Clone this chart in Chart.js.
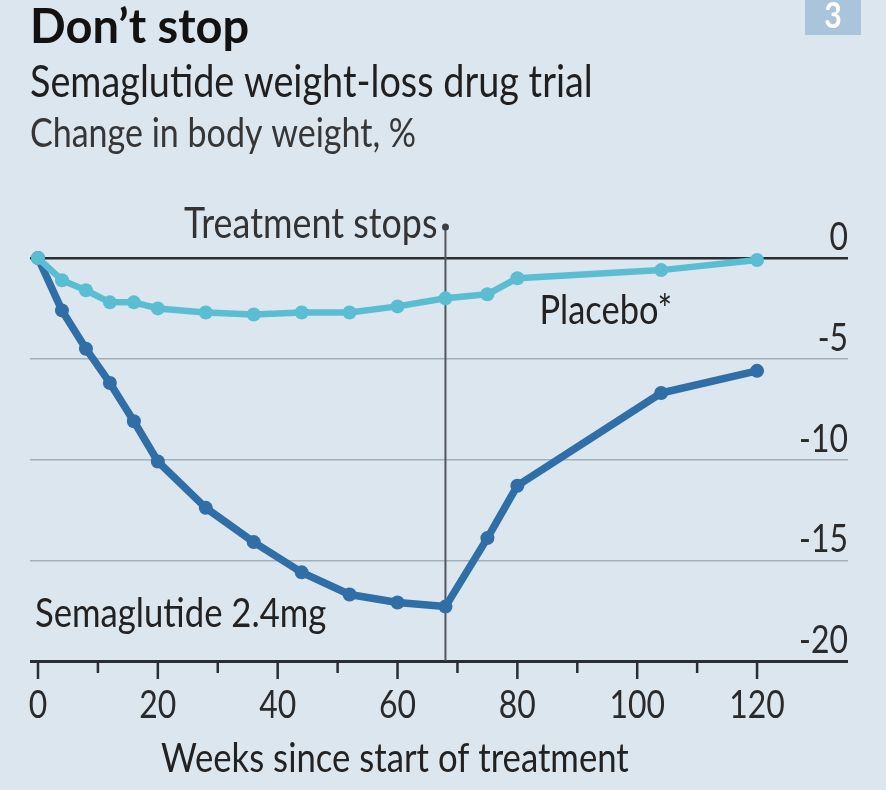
<!DOCTYPE html>
<html>
<head>
<meta charset="utf-8">
<title>Don't stop</title>
<script src="https://cdn.jsdelivr.net/npm/chart.js@4.4.1/dist/chart.umd.min.js"></script>
<style>
    html, body { margin: 0; padding: 0; background: #dce6ee; }
    canvas { display: block; }
</style>
</head>
<body>
<canvas id="chart" width="886" height="790"></canvas>
<script>
// Data (weeks since start, % change in body weight)
const semaWeeks = [0, 4, 8, 12, 16, 20, 28, 36, 44, 52, 60, 68, 75, 80, 104, 120];
const semaValues = [0, -2.6, -4.5, -6.2, -8.1, -10.1, -12.4, -14.1, -15.6, -16.7, -17.1, -17.3, -13.9, -11.3, -6.7, -5.6];
const placeboWeeks = [0, 4, 8, 12, 16, 20, 28, 36, 44, 52, 60, 68, 75, 80, 104, 120];
const placeboValues = [0, -1.1, -1.6, -2.2, -2.2, -2.5, -2.7, -2.8, -2.7, -2.7, -2.4, -2.0, -1.8, -1.0, -0.6, -0.1];
const xTickValues = [0, 10, 20, 30, 40, 50, 60, 70, 80, 90, 100, 110, 120];
const xTickLabels = ['0', '', '20', '', '40', '', '60', '', '80', '', '100', '', '120'];
const yTickValues = [0, -5, -10, -15, -20];
const yTickLabels = ['0', '-5', '-10', '-15', '-20'];
const stopWeek = 68;

const SEMA_COLOR = '#2f6ea6';
const PLACEBO_COLOR = '#5bbdd2';
const DARK = '#2a2e33';
const CND = 0.84; // horizontal squeeze to mimic a condensed face

function toPoints(xs, ys) {
    return xs.map((x, i) => ({ x: x, y: ys[i] }));
}

// fillText with a horizontal squeeze
function narrowText(ctx, text, x, y, size, align, color, weight) {
    ctx.save();
    ctx.font = (weight || 'normal') + ' ' + size + 'px Lato';
    ctx.fillStyle = color;
    ctx.textAlign = align;
    ctx.textBaseline = 'alphabetic';
    ctx.translate(x, y);
    ctx.scale(CND, 1);
    ctx.fillText(text, 0, 0);
    ctx.restore();
}

// Draws text, titles, x-axis ticks and the "treatment stops" marker
const decorations = {
    id: 'decorations',
    beforeDatasetsDraw(chart) {
        const { ctx, scales: { x, y } } = chart;
        const px = x.getPixelForValue(stopWeek);
        const top = chart.chartArea.top;
        ctx.save();
        ctx.strokeStyle = '#50565c';
        ctx.lineWidth = 2;
        ctx.beginPath();
        ctx.moveTo(px, top);
        ctx.lineTo(px, y.getPixelForValue(-20));
        ctx.stroke();
        ctx.fillStyle = '#3a3f44';
        ctx.beginPath();
        ctx.arc(px, top, 3.5, 0, Math.PI * 2);
        ctx.fill();
        ctx.restore();
    },
    afterDraw(chart) {
        const { ctx, scales: { x, y } } = chart;
        ctx.save();

        // Titles
        ctx.textAlign = 'left';
        ctx.textBaseline = 'alphabetic';
        ctx.fillStyle = '#121212';
        ctx.font = 'bold 47px Lato';
        ctx.fillText('Don\u2019t stop', 30, 43);
        narrowText(ctx, 'Semaglutide weight-loss drug trial', 30, 97, 45, 'left', '#1f1f1f');
        narrowText(ctx, 'Change in body weight, %', 30, 147, 40.5, 'left', '#363636');

        // Number box
        ctx.fillStyle = '#a9c4db';
        ctx.fillRect(805, 0, 56, 35);
        narrowText(ctx, '3', 833, 28, 36, 'center', '#ffffff', 'bold');

        // Y tick labels (right side, above gridlines)
        yTickValues.forEach((v, i) => {
            narrowText(ctx, yTickLabels[i], chart.chartArea.right, y.getPixelForValue(v) - 8, 38, 'right', '#2a2a2a');
        });

        // X ticks and labels
        const base = y.getPixelForValue(-20);
        ctx.strokeStyle = DARK;
        ctx.lineWidth = 2.5;
        xTickValues.forEach((v, i) => {
            const px = x.getPixelForValue(v);
            const major = xTickLabels[i] !== '';
            ctx.beginPath();
            ctx.moveTo(px, base);
            ctx.lineTo(px, base + (major ? 18 : 12));
            ctx.stroke();
            if (major) narrowText(ctx, xTickLabels[i], px, base + 57, 38, 'center', '#2a2a2a');
        });
        narrowText(ctx, 'Weeks since start of treatment', 161, 772, 41.3, 'left', '#222');

        // Series labels
        narrowText(ctx, 'Treatment stops', x.getPixelForValue(stopWeek) - 8, 238, 42.7, 'right', '#333');
        narrowText(ctx, 'Placebo*', x.getPixelForValue(83.7), 324, 41, 'left', '#222');
        narrowText(ctx, 'Semaglutide 2.4mg', x.getPixelForValue(-0.5), 627, 41.3, 'left', '#222');

        ctx.restore();
    }
};

const chart = new Chart(document.getElementById('chart'), {
    type: 'line',
    data: {
        datasets: [
            {
                label: 'Placebo*',
                data: toPoints(placeboWeeks, placeboValues),
                borderColor: PLACEBO_COLOR,
                backgroundColor: PLACEBO_COLOR,
                borderWidth: 6.5,
                pointRadius: 7,
                pointBorderWidth: 0,
                order: 0
            },
            {
                label: 'Semaglutide 2.4mg',
                data: toPoints(semaWeeks, semaValues),
                borderColor: SEMA_COLOR,
                backgroundColor: SEMA_COLOR,
                borderWidth: 7.5,
                pointRadius: 7,
                pointBorderWidth: 0,
                order: 1
            }
        ]
    },
    options: {
        responsive: false,
        animation: false,
        layout: { padding: { left: 30, right: 38, top: 227, bottom: 129 } },
        plugins: { legend: { display: false }, tooltip: { enabled: false } },
        elements: { line: { tension: 0, borderJoinStyle: 'round', borderCapStyle: 'round' } },
        scales: {
            x: {
                type: 'linear',
                display: false,
                min: -1.335,
                max: 135.18
            },
            y: {
                type: 'linear',
                min: -20,
                max: 1.54,
                border: { display: false },
                ticks: { display: false },
                afterBuildTicks: scale => {
                    scale.ticks = yTickValues.map(v => ({ value: v }));
                },
                grid: {
                    drawTicks: false,
                    color: c => (c.tick && (c.tick.value === 0 || c.tick.value === -20)) ? DARK : '#a3afb9',
                    lineWidth: c => (c.tick && c.tick.value === -20) ? 3 : (c.tick && c.tick.value === 0 ? 2.5 : 1.5)
                }
            }
        }
    },
    plugins: [decorations]
});
</script>
</body>
</html>
